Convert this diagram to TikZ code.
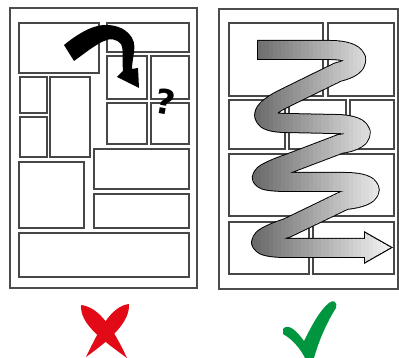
\documentclass[tikz,border=0pt]{standalone}
\usepackage{fontspec}
\newfontfamily\qfont{DejaVu Sans}
\usetikzlibrary{calc}
\definecolor{xred}{HTML}{E30A17}
\definecolor{vgreen}{HTML}{00953F}
\tikzset{
  pageborder/.style={draw=black!70, line width=1.8},
  panel/.style={draw=black!72, line width=1.2},
  snakeline/.style={line join=round, line cap=butt},
}
\def\snakepath{(257,50) -- (330,50) .. controls (362,50) and (365,66) .. (338,72) -- (287,97) .. controls (255,112) and (258,123) .. (287,123) -- (335,124) .. controls (368,124) and (369,140) .. (340,144) -- (290,163) .. controls (250,177) and (255,182) .. (290,182) -- (345,182) .. controls (378,182) and (378,197) .. (345,200) -- (287,228) .. controls (250,240) and (255,248) .. (287,248) -- (367,248)}
\begin{document}
\begin{tikzpicture}[x=1pt,y=-1pt]
\useasboundingbox (0,0) rectangle (399,358);
\fill[white] (0,0) rectangle (399,358);
% ---------- left page ----------
\draw[pageborder] (10,8) rectangle (197,288);
\draw[panel] (19,23) rectangle (99,73);
\draw[panel] (107,23) rectangle (189,52);
\draw[panel] (107,56) rectangle (147,99);
\draw[panel] (151,56) rectangle (189,99);
\draw[panel] (107,103) rectangle (147,144);
\draw[panel] (151,103) rectangle (189,144);
\draw[panel] (20,77) rectangle (47,113);
\draw[panel] (20,117) rectangle (47,157);
\draw[panel] (50,77) rectangle (90,157);
\draw[panel] (94,149) rectangle (189,189);
\draw[panel] (19,162) rectangle (84,228);
\draw[panel] (94,194) rectangle (189,228);
\draw[panel] (19,233) rectangle (189,277);
% curly arrow
\fill[black] (64,45) .. controls (80,32) and (95,24) .. (108,25)
  .. controls (126,26) and (137,38) .. (134,52)
  .. controls (133,60) and (132,64) .. (132,69)
  -- (138,68) -- (139,88) -- (117,77) -- (123,71)
  .. controls (122,60) and (124,50) .. (121,44)
  .. controls (117,39) and (110,38) .. (104,41)
  .. controls (95,45) and (85,53) .. (74,61) -- cycle;
\node[inner sep=0pt, font=\qfont\bfseries\fontsize{34}{34}\selectfont, rotate=-10] (qmark) at (165,102) {?};
% ---------- right page ----------
\draw[pageborder] (219,9) rectangle (398,289);
\draw[panel] (229,23) rectangle (323,96);
\draw[panel] (328,23) rectangle (394,96);
\draw[panel] (229,100) rectangle (285,149);
\draw[panel] (289,100) rectangle (346,149);
\draw[panel] (350,100) rectangle (394,149);
\draw[panel] (229,154) rectangle (394,216);
\draw[panel] (229,222) rectangle (309,274);
\draw[panel] (313,222) rectangle (394,274);
% snake arrow: outline
\draw[snakeline, black, line width=20] \snakepath;
\fill[black] (364,231) -- (393,247.5) -- (364,264) -- cycle;
% snake arrow: graded interior in vertical strips
\foreach \i in {0,...,37}{
  \pgfmathsetmacro\xa{245+4*\i}
  \pgfmathtruncatemacro\p{62-59*\i/37}
  \begin{scope}
    \clip (\xa,30) rectangle (\xa+5,275);
    \draw[snakeline, black!\p, line width=18] \snakepath;
    \fill[black!\p] (365,233) -- (390.5,247.5) -- (365,262) -- cycle;
  \end{scope}
}
\draw[black, line width=1] (257,41) -- (257,59);
% ---------- marks ----------
\fill[xred] (81,305) .. controls (99,307) and (113,328) .. (127,358)
  .. controls (101,339) and (80,324) .. (81,305) -- cycle;
\fill[xred] (129,304) .. controls (130,322) and (111,339) .. (86,357)
  .. controls (99,330) and (111,306) .. (129,304) -- cycle;
\fill[vgreen] (283,329) .. controls (288,323) and (296,330) .. (304,341)
  .. controls (312,325) and (320,310) .. (329,303)
  .. controls (333,299) and (338,302) .. (336,308)
  .. controls (327,322) and (319,340) .. (314,358) -- (305,358)
  .. controls (300,348) and (292,339) .. (283,334) -- cycle;
\end{tikzpicture}
\end{document}
